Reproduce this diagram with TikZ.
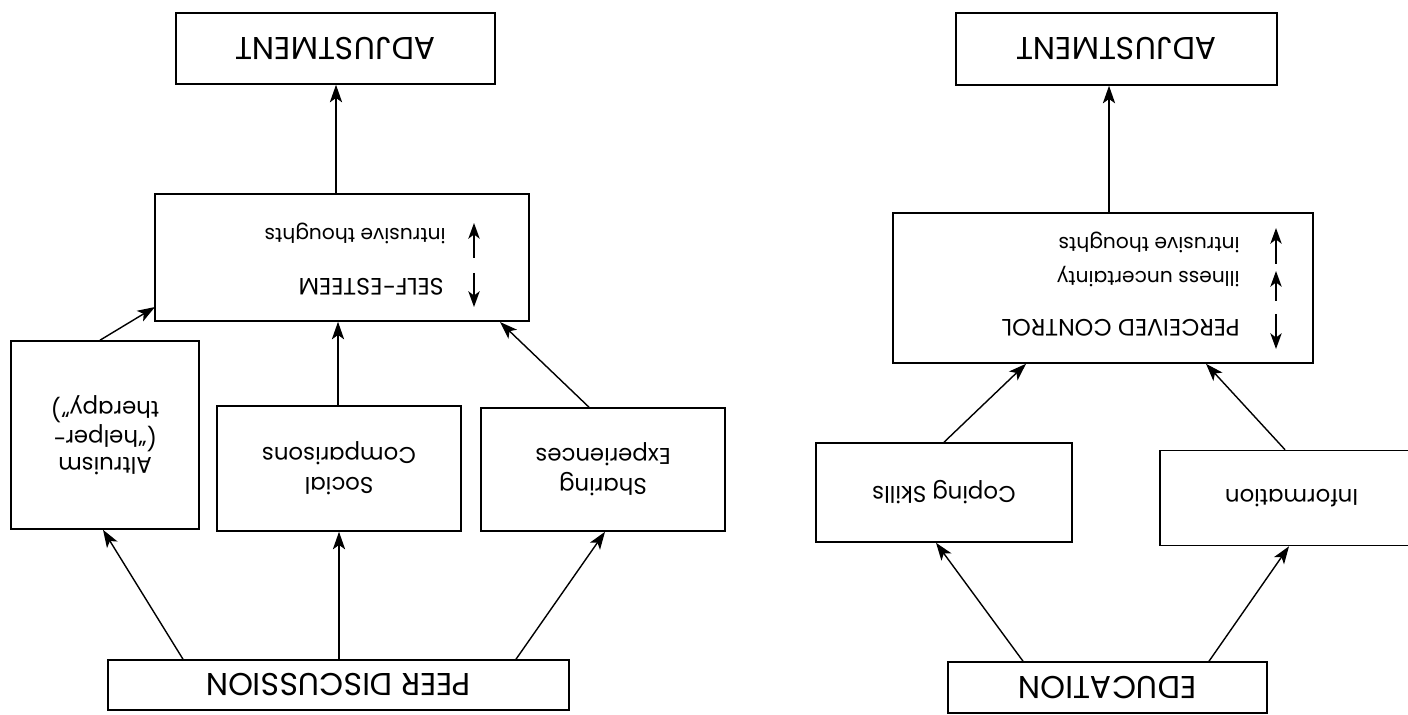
\documentclass[tikz,border=0pt]{standalone}
\usepackage{fontspec}
\setmainfont{Poppins}
\usetikzlibrary{arrows.meta}
\begin{document}
\begin{tikzpicture}[x=0.02cm,y=-0.02cm,
  box/.style={draw, line width=0.9pt, inner sep=0pt, rotate=180, align=center},
  lbl/.style={rotate=180, inner sep=0pt, align=center},
  big/.style={font=\fontsize{18}{21}\selectfont},
  mid/.style={font=\fontsize{13}{15.5}\selectfont},
  sml/.style={font=\fontsize{11.5}{13}\selectfont},
  capsfont/.style={font=\fontsize{13.5}{15}\selectfont},
  conn/.style={line width=0.8pt, -{Stealth[length=10pt,width=7pt,inset=2.5pt]}},
  updown/.style={line width=0.8pt, -{Stealth[length=9pt,width=6.5pt,inset=2.5pt]}}
]
\useasboundingbox (0,0) rectangle (1408,715);
% ---------- left diagram ----------
\node[box, big, minimum width={319*0.02cm}, minimum height={71*0.02cm}] (adjL) at (335.5,48.5) {ADJUSTMENT};
\node[box, minimum width={374*0.02cm}, minimum height={127*0.02cm}] (se) at (342,257.5) {};
\node[lbl, sml, anchor=west] (itL) at (446,233) {intrusive thoughts};
\node[lbl, capsfont, anchor=west] (selfes) at (444,287) {SELF-ESTEEM};
\draw[updown] (474,258) -- (474,223);
\draw[updown] (474,273) -- (474,307);
\node[box, mid, minimum width={188*0.02cm}, minimum height={188*0.02cm}] (altr) at (105,435) {Altruism\\(“helper-\\therapy”)};
\node[box, font=\fontsize{13}{17}\selectfont, minimum width={244*0.02cm}, minimum height={125*0.02cm}] (soc) at (339,468.5) {Social\\Comparisons};
\node[box, font=\fontsize{13}{17}\selectfont, minimum width={244*0.02cm}, minimum height={123*0.02cm}] (shr) at (603,469.5) {Sharing\\Experiences};
\node[box, big, minimum width={461*0.02cm}, minimum height={50*0.02cm}] (peer) at (338.5,685) {PEER DISCUSSION};
\coordinate (seL) at (155,307);
\draw[conn] (se.south -| 336,0) -- (adjL.north -| 336,0);
\draw[conn] (soc.south -| 338,0) -- (se.north -| 338,0);
\draw[conn] (altr.south -| 100,0) -- (seL);
\draw[conn] (shr.south -| 589,0) -- (500,322);
\draw[conn] (peer.south -| 183,0) -- (altr.north -| 103,0);
\draw[conn] (peer.south -| 339,0) -- (soc.north -| 339,0);
\draw[conn] (peer.south -| 516,0) -- (shr.north -| 605,0);
% ---------- right diagram ----------
\node[box, big, minimum width={321*0.02cm}, minimum height={72*0.02cm}] (adjR) at (1116.5,49) {ADJUSTMENT};
\node[box, minimum width={420*0.02cm}, minimum height={150*0.02cm}] (pc) at (1103,288) {};
\node[lbl, sml, anchor=west] (itR) at (1240,242) {intrusive thoughts};
\node[lbl, sml, anchor=west] (ill) at (1240,277) {illness uncertainty};
\node[lbl, capsfont, anchor=west] (pcon) at (1240,328) {PERCEIVED CONTROL};
\draw[updown] (1276,264) -- (1276,228);
\draw[updown] (1276,301) -- (1276,271);
\draw[updown] (1276,314) -- (1276,349);
\node[box, mid, minimum width={256*0.02cm}, minimum height={99*0.02cm}] (cop) at (944,492.5) {Coping Skills};
\node[box, mid, minimum width={270*0.02cm}, minimum height={95*0.02cm}, text width={140*0.02cm}, align=right] (inf) at (1295,498) {Information};
\node[box, big, minimum width={319*0.02cm}, minimum height={51*0.02cm}] (edu) at (1107.5,687.5) {EDUCATION};
\draw[conn] (pc.south -| 1109,0) -- (adjR.north -| 1109,0);
\draw[conn] (cop.south -| 944,0) -- (pc.north -| 1026,0);
\draw[conn] (inf.south -| 1285,0) -- (pc.north -| 1206,0);
\draw[conn] (edu.south -| 1023,0) -- (cop.north -| 936,0);
\draw[conn] (edu.south -| 1209,0) -- (inf.north -| 1289,0);
\end{tikzpicture}
\end{document}
